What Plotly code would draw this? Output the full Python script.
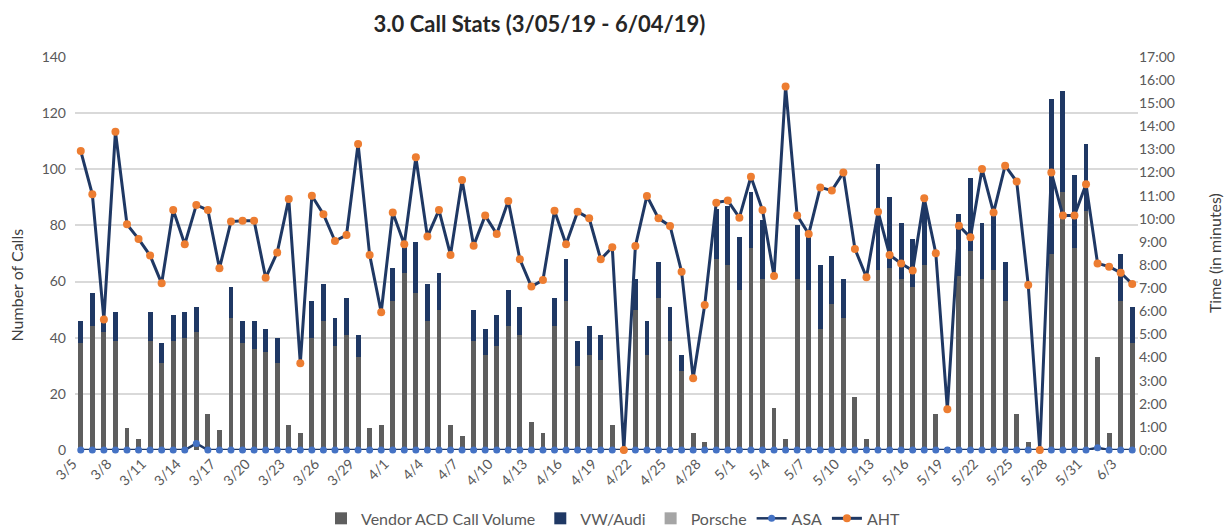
import pandas as pd
import plotly.graph_objects as go

# Daily categories 3/5/19 - 6/4/19
dates = pd.date_range("2019-03-05", "2019-06-04", freq="D")
day_labels = [f"{d.month}/{d.day}" for d in dates]
tick_labels = day_labels[::3]

# Call volumes (stacked bars, left axis)
vendor_acd = [38, 44, 42, 39, 8, 4, 39, 31, 39, 40, 42, 13, 7, 47, 38, 36, 35, 31, 9, 6,
              40, 46, 37, 41, 33, 8, 9, 53, 63, 56, 46, 50, 9, 5, 39, 34, 37, 44, 41, 10,
              6, 44, 53, 30, 34, 32, 9, 0, 50, 34, 54, 39, 28, 6, 3, 68, 66, 57, 72, 61,
              15, 4, 61, 57, 43, 52, 47, 19, 4, 64, 65, 61, 58, 66, 13, 1, 62, 71, 61, 64,
              53, 13, 3, 0, 70, 92, 72, 85, 33, 6, 53, 38]
vw_audi = [8, 12, 5, 10, 0, 0, 10, 7, 9, 9, 9, 0, 0, 11, 8, 10, 8, 9, 0, 0,
           13, 13, 10, 13, 8, 0, 0, 12, 10, 18, 13, 13, 0, 0, 11, 9, 11, 13, 10, 0,
           0, 10, 15, 9, 10, 9, 0, 0, 11, 12, 13, 12, 6, 0, 0, 18, 21, 19, 20, 21,
           0, 0, 19, 19, 23, 17, 14, 0, 0, 38, 25, 20, 17, 21, 0, 0, 22, 26, 20, 22,
           14, 0, 0, 0, 55, 36, 26, 24, 0, 0, 17, 13]
porsche = [0] * 92

# Times in minutes (right axis)
asa = [0, 0, 0, 0, 0, 0, 0, 0, 0, 0, 0.28, 0, 0, 0, 0, 0, 0, 0, 0, 0,
       0, 0, 0, 0, 0, 0, 0, 0, 0, 0, 0, 0, 0, 0, 0, 0, 0, 0, 0, 0,
       0, 0, 0, 0, 0, 0, 0, 0, 0, 0, 0, 0, 0, 0, 0, 0, 0, 0, 0, 0,
       0, 0, 0, 0, 0, 0, 0, 0, 0, 0, 0, 0, 0, 0, 0, 0, 0, 0, 0, 0,
       0, 0, 0, 0, 0, 0, 0, 0, 0.1, 0, 0, 0]
aht = [12.93, 11.06, 5.65, 13.77, 9.76, 9.13, 8.41, 7.21, 10.38, 8.9, 10.6, 10.38, 7.86, 9.88,
       9.92, 9.92, 7.45, 8.54, 10.86, 3.75, 11.0, 10.2, 9.04, 9.3, 13.24, 8.44, 5.96, 10.27,
       8.9, 12.66, 9.23, 10.38, 8.44, 11.68, 8.84, 10.14, 9.34, 10.77, 8.25, 7.07, 7.35, 10.35,
       8.9, 10.31, 10.02, 8.25, 8.77, 0, 8.82, 10.99, 10.02, 9.69, 7.71, 3.1, 6.27, 10.7,
       10.79, 10.05, 11.82, 10.38, 7.53, 15.72, 10.14, 9.34, 11.36, 11.22, 12.0, 8.7, 7.47,
       10.31, 8.44, 8.07, 7.76, 10.89, 8.51, 1.76, 9.7, 9.2, 12.16, 10.27, 12.3, 11.61, 7.14,
       0, 12.0, 10.14, 10.14, 11.5, 8.07, 7.93, 7.67, 7.18]

time_ticks = list(range(0, 18))
time_labels = [f"{t}:00" for t in time_ticks]

FONT = "Lato"
TXT = "#595959"
NAVY = "#1F3864"

fig = go.Figure()
fig.add_trace(go.Bar(x=day_labels, y=vendor_acd, name="Vendor ACD Call Volume",
                     marker=dict(color="#5E5E5E", line=dict(width=0))))
fig.add_trace(go.Bar(x=day_labels, y=vw_audi, name="VW/Audi",
                     marker=dict(color=NAVY, line=dict(width=0))))
fig.add_trace(go.Bar(x=day_labels, y=porsche, name="Porsche",
                     marker=dict(color="#A5A5A5", line=dict(width=0))))
fig.add_trace(go.Scatter(x=day_labels, y=asa, name="ASA", yaxis="y2", mode="lines+markers",
                         cliponaxis=False, line=dict(color=NAVY, width=2.5),
                         marker=dict(color="#4472C4", size=7)))
fig.add_trace(go.Scatter(x=day_labels, y=aht, name="AHT", yaxis="y2", mode="lines+markers",
                         cliponaxis=False, line=dict(color=NAVY, width=3),
                         marker=dict(color="#ED7D31", size=8)))

fig.update_layout(
    width=1226, height=529,
    margin=dict(l=75, r=88, t=57, b=79),
    paper_bgcolor="white", plot_bgcolor="white",
    font=dict(family=FONT, size=13, color=TXT),
    barmode="stack", bargap=0.58,
    title=dict(text="<b>3.0 Call Stats (3/05/19 - 6/04/19)</b>",
               x=0.44, xref="container", xanchor="center",
               y=0.955, yref="container", yanchor="middle",
               font=dict(family=FONT, size=22, color="#262626")),
    xaxis=dict(type="category", categoryorder="array", categoryarray=day_labels,
               range=[-0.5, len(day_labels) - 0.5], autorange=False,
               tickmode="array", tickvals=tick_labels, ticktext=tick_labels,
               tickangle=-45, showgrid=False, showline=False, ticks="", automargin=False,
               ticklabelshift=-8, ticklabelstandoff=2,
               tickfont=dict(size=14, color=TXT)),
    yaxis=dict(range=[0, 140], dtick=20, showgrid=True, gridcolor="#D9D9D9", gridwidth=1.5,
               zeroline=False, showline=False, ticks="", automargin=False,
               ticklabelstandoff=8, tickfont=dict(size=14, color=TXT)),
    yaxis2=dict(range=[0, 17], overlaying="y", side="right", tickmode="array",
                tickvals=time_ticks, ticktext=time_labels, showgrid=False, zeroline=False,
                showline=False, ticks="", automargin=False,
                tickfont=dict(size=14, color=TXT)),
    legend=dict(orientation="h", x=0.5, xref="container", xanchor="center",
                y=0.02, yref="container", yanchor="middle",
                font=dict(size=16, color=TXT), traceorder="normal"),
    annotations=[
        dict(text="Number of Calls", xref="paper", yref="paper", x=-0.055, y=0.42,
             xanchor="center", yanchor="middle", textangle=-90, showarrow=False,
             font=dict(size=16, color="#404040")),
        dict(text="Time (in minutes)", xref="paper", yref="paper", x=1.072, y=0.5,
             xanchor="center", yanchor="middle", textangle=-90, showarrow=False,
             font=dict(size=16, color="#404040")),
    ],
)

fig.write_html("out.html")
